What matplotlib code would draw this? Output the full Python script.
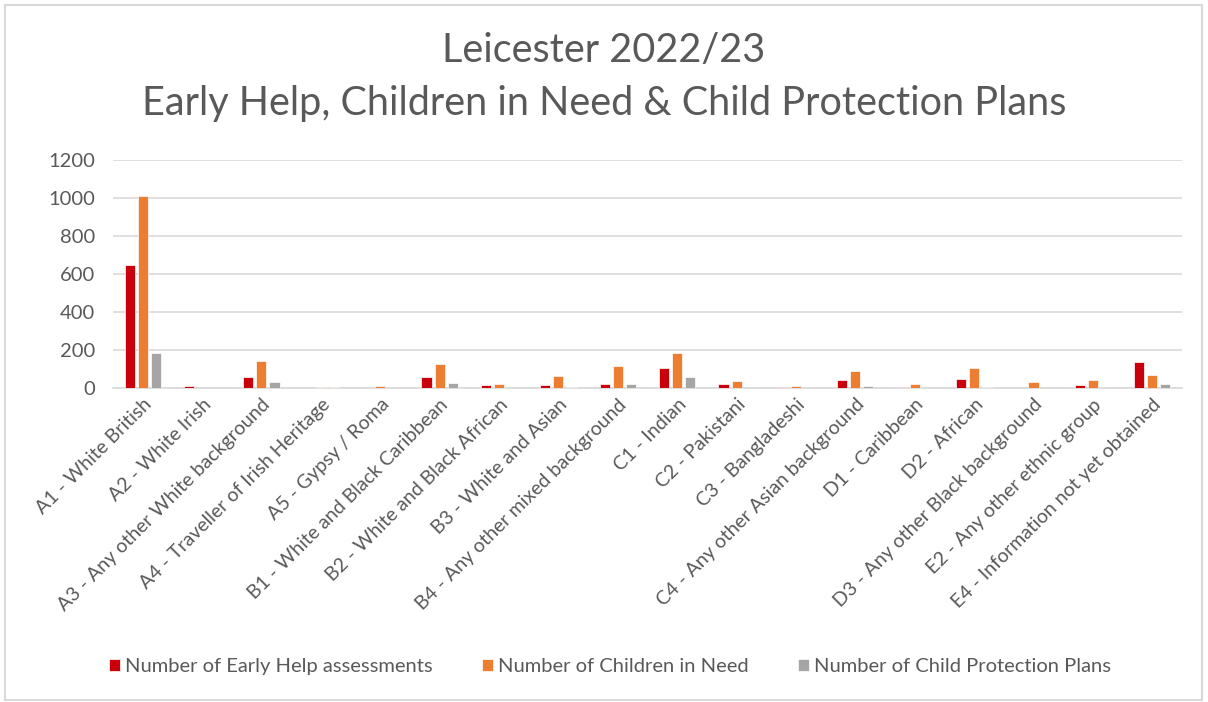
import numpy as np
import matplotlib
matplotlib.use("Agg")
import matplotlib.pyplot as plt
from matplotlib.patches import Rectangle

plt.rcParams['font.family'] = ['Lato', 'DejaVu Sans']

categories = ["A1 - White British", "A2 - White Irish", "A3 - Any other White background",
              "A4 - Traveller of Irish Heritage", "A5 - Gypsy / Roma", "B1 - White and Black Caribbean",
              "B2 - White and Black African", "B3 - White and Asian", "B4 - Any other mixed background",
              "C1 - Indian", "C2 - Pakistani", "C3 - Bangladeshi", "C4 - Any other Asian background",
              "D1 - Caribbean", "D2 - African", "D3 - Any other Black background",
              "E2 - Any other ethnic group", "E4 - Information not yet obtained"]

early_help = [645, 10, 58, 0, 0, 53, 14, 14, 19, 105, 16, 5, 38, 5, 45, 0, 14, 132]
children_in_need = [1010, 0, 140, 3, 8, 126, 17, 63, 116, 184, 35, 8, 86, 17, 105, 28, 40, 65]
protection_plans = [181, 0, 30, 2, 0, 24, 0, 5, 21, 58, 0, 0, 10, 0, 5, 0, 0, 21]

series_names = ["Number of Early Help assessments", "Number of Children in Need",
                "Number of Child Protection Plans"]
colors = ["#C9000B", "#ED7D31", "#A5A5A5"]

text_col = "#595959"
grid_col = "#D9D9D9"

fig = plt.figure(figsize=(12.08, 7.02), dpi=100)
ax = fig.add_axes([0.0935, 0.448, 0.885, 0.324])

x = np.arange(len(categories))
w = 0.17
off = 0.22
for i, vals in enumerate([early_help, children_in_need, protection_plans]):
    ax.bar(x + (i - 1) * off, vals, width=w, color=colors[i], label=series_names[i],
           edgecolor="white", linewidth=0.5, zorder=3)

ax.set_xlim(-0.5, len(categories) - 0.5)
ax.set_ylim(0, 1200)
ax.set_yticks(range(0, 1201, 200))
ax.yaxis.grid(True, color=grid_col, linewidth=1.2, zorder=0)
ax.set_axisbelow(True)
for s in ["top", "right", "left"]:
    ax.spines[s].set_visible(False)
ax.spines["bottom"].set_color(grid_col)
ax.spines["bottom"].set_linewidth(1.2)
ax.tick_params(axis="both", length=0, colors=text_col, labelsize=14.5)
ax.tick_params(axis="y", pad=13)
ax.set_xticks(x)
ax.set_xticklabels(categories, rotation=45, ha="right", rotation_mode="anchor", fontsize=14)
ax.tick_params(axis="x", pad=6)

fig.text(0.5, 0.928, "Leicester 2022/23", ha="center", va="center", fontsize=28.5, color=text_col)
fig.text(0.5, 0.853, "Early Help, Children in Need & Child Protection Plans", ha="center",
         va="center", fontsize=28.5, color=text_col)

fig.legend(loc="center", bbox_to_anchor=(0.505, 0.051), ncol=3, frameon=False, fontsize=14.5,
           handlelength=0.55, handleheight=0.55, handletextpad=0.25, columnspacing=2.45,
           labelcolor=text_col)

fig.patches.append(Rectangle((5 / 1208, 2 / 702), 1197 / 1208, 695 / 702, transform=fig.transFigure,
                             fill=False, edgecolor=grid_col, linewidth=1.5))

fig.savefig("out.png", dpi=100, facecolor="white")
